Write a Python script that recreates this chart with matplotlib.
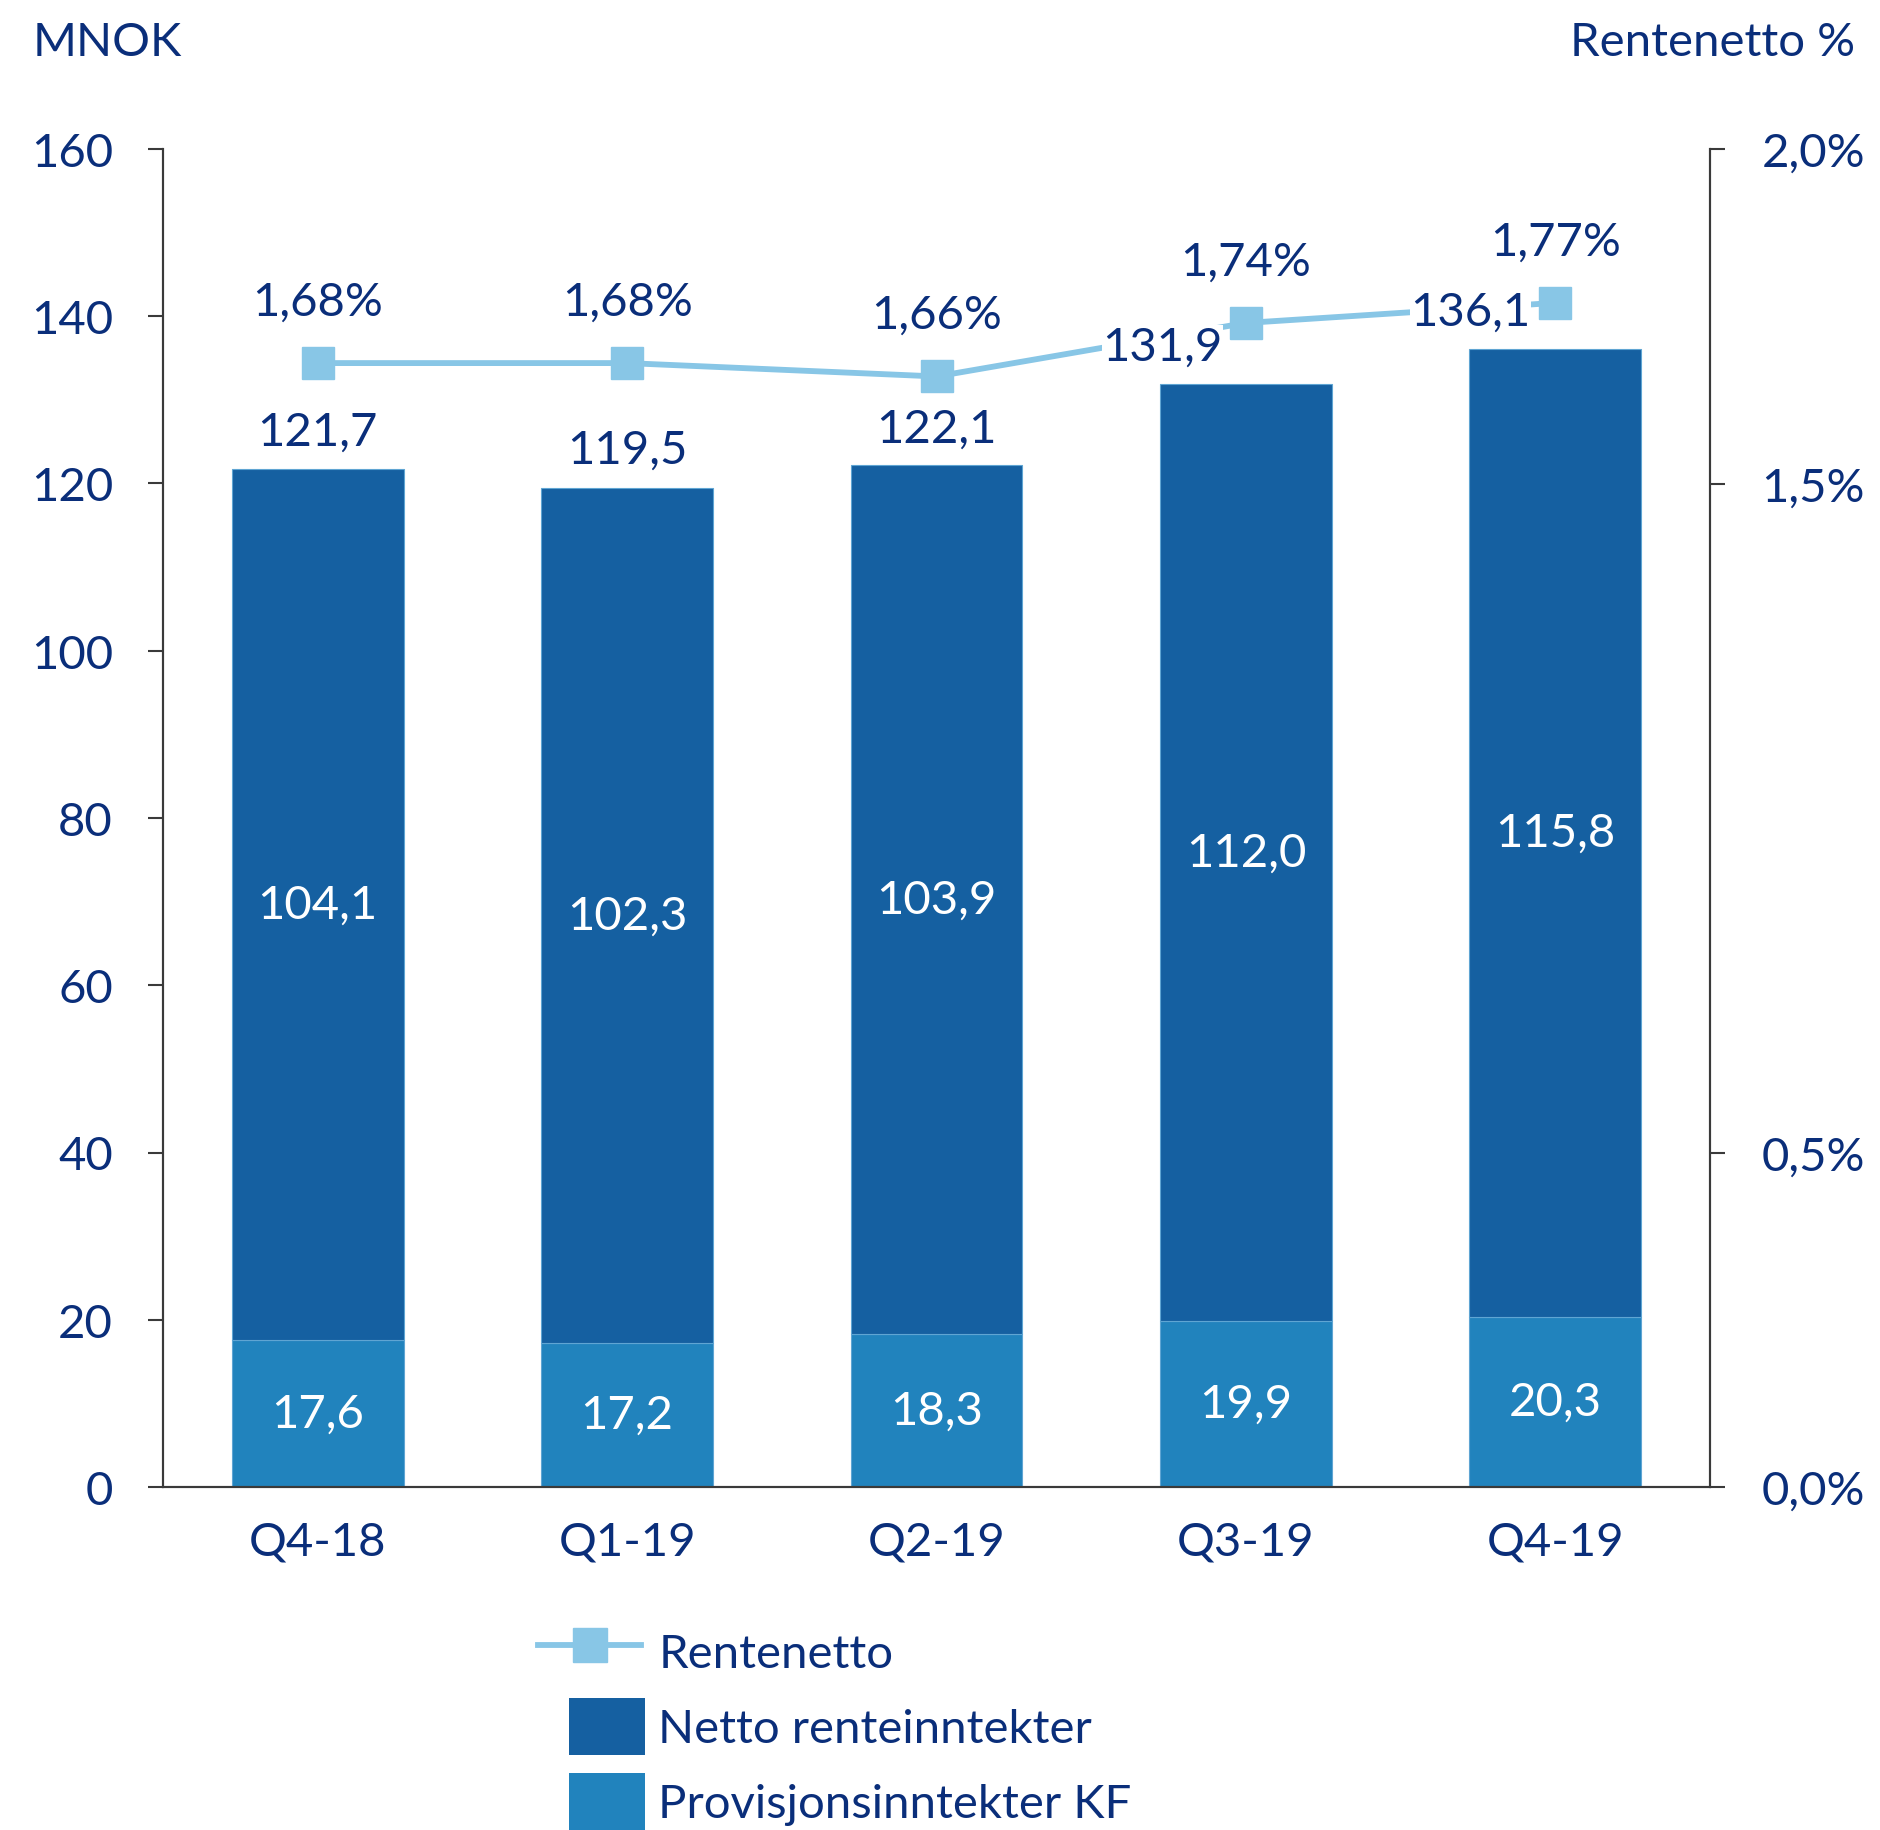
import matplotlib.pyplot as plt
from matplotlib.lines import Line2D
from matplotlib.patches import Patch
from matplotlib.legend_handler import HandlerLine2D

# data
quarters = ["Q4-18", "Q1-19", "Q2-19", "Q3-19", "Q4-19"]
provisjon = [17.6, 17.2, 18.3, 19.9, 20.3]
netto = [104.1, 102.3, 103.9, 112.0, 115.8]
totals = [121.7, 119.5, 122.1, 131.9, 136.1]
rentenetto = [1.68, 1.68, 1.66, 1.74, 1.77]

# total labels that were nudged left in the original
total_dx = [0, 0, 0, -0.27, -0.275]

navy = "#0A2E7A"
dark_bar = "#1560A1"
light_bar = "#2183BD"
line_col = "#88C6E6"
axis_col = "#3A3A3A"
fs = 34


def fmt(v, nd=1, suffix=""):
    return f"{v:.{nd}f}{suffix}".replace(".", ",")


class WideLine(HandlerLine2D):
    # legend line sticks out to the left of the patch column
    def get_xdata(self, legend, xdescent, ydescent, width, height, fontsize):
        x0 = -xdescent - 22
        x1 = -xdescent + width - 3
        return [x0, x1], [(x0 + x1) / 2]


plt.rcParams['font.family'] = ['Lato', 'DejaVu Sans']

fig = plt.figure(figsize=(18.81, 18.31), dpi=100)
ax = fig.add_axes([163 / 1881, 1 - 1488 / 1831, (1710 - 163) / 1881, (1488 - 150) / 1831])
ax2 = ax.twinx()

x = range(len(quarters))
w = 0.555
ax.bar(x, provisjon, width=w, color=light_bar, edgecolor="#5FA5D3", linewidth=0.8)
ax.bar(x, netto, width=w, bottom=provisjon, color=dark_bar, edgecolor="#5FA5D3", linewidth=0.8)

for i in x:
    ax.text(i, provisjon[i] / 2, fmt(provisjon[i]),
            ha="center", va="center", color="white", fontsize=fs)
    ax.text(i, provisjon[i] + netto[i] / 2, fmt(netto[i]),
            ha="center", va="center", color="white", fontsize=fs)

ax2.plot(x, rentenetto, color=line_col, linewidth=4.2, marker="s", markersize=23,
         markerfacecolor=line_col, markeredgecolor=line_col, zorder=3)

# totals go on ax2 so their white boxes sit over the line
for i in x:
    ax2.text(i + total_dx[i], totals[i] + 4.5, fmt(totals[i]), transform=ax.transData,
             ha="center", va="center", color=navy, fontsize=fs, zorder=5,
             bbox=dict(facecolor="white", edgecolor="none", pad=0.5))
    ax2.text(i, rentenetto[i] + 0.092, fmt(rentenetto[i], 2, "%"),
             ha="center", va="center", color=navy, fontsize=fs, zorder=5)

ax.set_xlim(-0.5, len(quarters) - 0.5)
ax.set_ylim(0, 160)
ax2.set_ylim(0, 2.0)
ax.set_yticks(range(0, 161, 20))
ax.set_xticks(list(x))
ax.set_xticklabels(quarters)
ax2.set_yticks([0, 0.5, 1.5, 2.0])
ax2.set_yticklabels(["0,0%", "0,5%", "1,5%", "2,0%"])

for a in (ax, ax2):
    a.spines["top"].set_visible(False)
    for s in ("left", "right", "bottom"):
        a.spines[s].set_color(axis_col)
        a.spines[s].set_linewidth(1.5)
ax.tick_params(axis="y", length=11, width=1.5, color=axis_col, pad=25,
               labelsize=fs, labelcolor=navy)
ax.tick_params(axis="x", length=0, pad=24, labelsize=fs, labelcolor=navy)
ax2.tick_params(axis="y", length=11, width=1.5, color=axis_col, pad=26,
                labelsize=fs, labelcolor=navy)

fig.text(33 / 1881, 1 - 43 / 1831, "MNOK", ha="left", va="center", color=navy, fontsize=fs)
fig.text(1855 / 1881, 1 - 43 / 1831, "Rentenetto %", ha="right", va="center",
         color=navy, fontsize=fs)

line_handle = Line2D([0], [0], color=line_col, linewidth=4.2, marker="s", markersize=24)
handles = [line_handle, Patch(facecolor=dark_bar), Patch(facecolor=light_bar)]
labels = ["Rentenetto", "Netto renteinntekter", "Provisjonsinntekter KF"]
fig.legend(handles, labels, loc="upper left", bbox_to_anchor=(569 / 1881, 1 - 1624 / 1831),
           frameon=False, fontsize=fs, labelcolor=navy, handlelength=1.61,
           handleheight=1.48, handletextpad=0.28, labelspacing=0.38,
           borderpad=0, borderaxespad=0, handler_map={line_handle: WideLine()})

fig.savefig("out.png", dpi=100)
